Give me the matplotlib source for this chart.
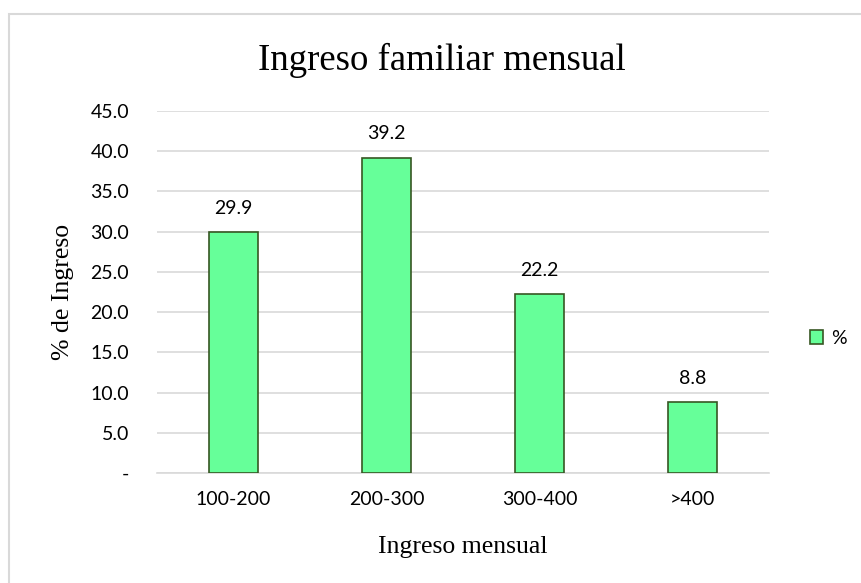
import matplotlib
matplotlib.use("Agg")
import matplotlib.pyplot as plt
from matplotlib.patches import Rectangle
from matplotlib.ticker import FixedLocator, FuncFormatter

categories = ["100-200", "200-300", "300-400", ">400"]
values = [29.9, 39.2, 22.2, 8.8]
yticks = [0, 5, 10, 15, 20, 25, 30, 35, 40, 45]

W, H = 861, 583
fig = plt.figure(figsize=(W / 100, H / 100), dpi=100)

# outer chart frame (light grey)
fig.patches.append(Rectangle((9 / W, -0.05), 1.1, (H - 14) / H + 0.05,
                             transform=fig.transFigure, fill=False,
                             edgecolor="#d9d9d9", linewidth=1.5))

left, right, top, bottom = 157, 769, 111, 473
ax = fig.add_axes([left / W, 1 - bottom / H, (right - left) / W, (bottom - top) / H])

sans = ["Lato", "DejaVu Sans"]
serif = ["Liberation Serif", "DejaVu Serif"]
fs = 14

x = range(len(categories))
bars = ax.bar(x, values, width=0.32, color="#66ff99", edgecolor="#375623",
              linewidth=1.2, zorder=3, label="%")

for xi, v in zip(x, values):
    ax.annotate(f"{v:.1f}", (xi, v), xytext=(0, 11), textcoords="offset points",
                ha="center", va="bottom", fontsize=fs, family=sans, color="#000000")

ax.set_xlim(-0.5, len(categories) - 0.5)
ax.set_ylim(0, 45)
ax.yaxis.set_major_locator(FixedLocator(yticks))
ax.yaxis.set_major_formatter(FuncFormatter(lambda v, p: "-" if v == 0 else f"{v:.1f}"))
ax.set_xticks(list(x))
ax.set_xticklabels(categories)
ax.grid(axis="y", color="#d9d9d9", linewidth=1.2, zorder=0)
for s in ["top", "right", "left"]:
    ax.spines[s].set_visible(False)
ax.spines["bottom"].set_color("#d9d9d9")
ax.spines["bottom"].set_linewidth(1.2)
ax.tick_params(axis="both", length=0, labelsize=fs, colors="#000000")
ax.tick_params(axis="x", pad=13)
ax.tick_params(axis="y", pad=20)
for lab in ax.get_xticklabels() + ax.get_yticklabels():
    lab.set_family(sans)

ax.set_xlabel("Ingreso mensual", family=serif, fontsize=18.5, labelpad=20)
ax.set_ylabel("% de Ingreso", family=serif, fontsize=18.5, labelpad=12)
fig.text(442 / W, 1 - 60 / H, "Ingreso familiar mensual", family=serif,
         fontsize=26.5, ha="center", va="center")

fig.legend(handles=[bars], labels=["%"], loc="center left",
           bbox_to_anchor=(792 / W, 1 - 338 / H), frameon=False,
           prop={"family": sans, "size": fs}, handlelength=0.7,
           handleheight=0.7, handletextpad=0.4)

fig.savefig("out.png", dpi=100)
